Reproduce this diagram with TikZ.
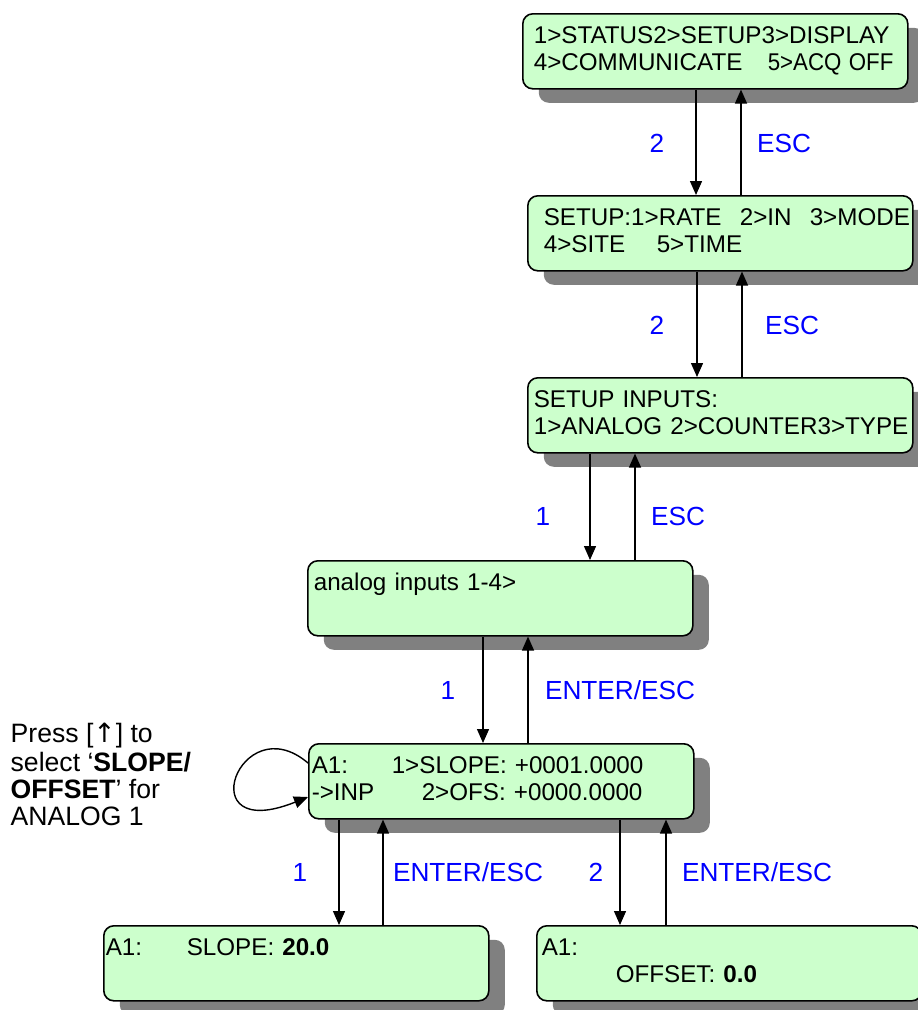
\documentclass[tikz,border=0pt]{standalone}
\usepackage{fontspec}
\setmainfont{Liberation Sans}
\newfontfamily\arrowfont{DejaVu Sans}
\usetikzlibrary{arrows.meta,shadows}
\definecolor{lcdgreen}{RGB}{204,255,204}
\definecolor{shadowgray}{RGB}{128,128,128}
\tikzset{
    panel/.style={draw,line width=1.6pt,rounded corners=10pt,fill=lcdgreen,
        drop shadow={shadow xshift=16pt,shadow yshift=-14pt,fill=shadowgray,opacity=1},
        anchor=north west,minimum height=75pt,text width=381pt,inner xsep=2pt,
        align=left,font=\fontsize{24.2}{27.5}\selectfont},
    key/.style={text=blue,font=\fontsize{26.2}{28}\selectfont},
    arr/.style={line width=1.4pt,-{Triangle[length=14pt,width=12pt]}}
}

\begin{document}
\begin{tikzpicture}[x=1pt,y=-1pt]
    \useasboundingbox (0,0) rectangle (918,1010);
    \node[panel] (main) at (522,13)
        {\strut\hspace*{9pt}1>STATUS2>SETUP3>DISPLAY\\
         \strut\hspace*{9pt}\makebox[234pt][l]{4>COMMUNICATE}\rlap{\scalebox{0.92}[1]{5>ACQ OFF}}};
    \node[panel] (setup) at (527,195)
        {\strut\hspace*{14pt}\makebox[196pt][l]{SETUP:1>RATE}\makebox[70pt][l]{2>IN}\rlap{3>MODE}\\
         \strut\hspace*{14pt}\makebox[113pt][l]{4>SITE}5>TIME};
    \node[panel] (inputs) at (527,377)
        {\strut\hspace*{4pt}SETUP INPUTS:\\
         \strut\hspace*{4pt}\rlap{1>ANALOG 2>COUNTER3>TYPE}};
    \node[panel] (analog) at (307,560)
        {\strut\hspace*{4pt}analog inputs 1-4>\\\strut};
    \node[panel] (chan) at (308,743)
        {\strut\hspace*{1pt}\makebox[80pt][l]{A1:}1>SLOPE: +0001.0000\\
         \strut\hspace*{1pt}\makebox[110pt][l]{->INP}2>OFS: +0000.0000};
    \node[panel] (slope) at (103,925)
        {\strut\makebox[81pt][l]{A1:}SLOPE: \textbf{20.0}\\\strut};
    \node[panel] (offset) at (536,925)
        {\strut\hspace*{3pt}A1:\\
         \strut\hspace*{77pt}OFFSET: \textbf{0.0}};

    \node[align=left,inner sep=0pt,anchor=north west,font=\fontsize{26.6}{27.4}\selectfont] (hint) at (10.5,723)
        {\strut Press [{\arrowfont ↑}] to\\select ‘\textbf{SLOPE/}\\\textbf{OFFSET}’ for\\ANALOG 1};

    \draw[arr] (696,0 |- main.south) -- (696,0 |- setup.north);
    \draw[arr] (741,0 |- setup.north) -- (741,0 |- main.south);
    \draw[arr] (697,0 |- setup.south) -- (697,0 |- inputs.north);
    \draw[arr] (742,0 |- inputs.north) -- (742,0 |- setup.south);
    \draw[arr] (590,0 |- inputs.south) -- (590,0 |- analog.north);
    \draw[arr] (635,0 |- analog.north) -- (635,0 |- inputs.south);
    \draw[arr] (483,0 |- analog.south) -- (483,0 |- chan.north);
    \draw[arr] (528,0 |- chan.north) -- (528,0 |- analog.south);
    \draw[arr] (339,0 |- chan.south) -- (339,0 |- slope.north);
    \draw[arr] (383,0 |- slope.north) -- (383,0 |- chan.south);
    \draw[arr] (620,0 |- chan.south) -- (620,0 |- offset.north);
    \draw[arr] (666,0 |- offset.north) -- (666,0 |- chan.south);
    \draw[arr] (chan.west |- 0,763) .. controls (240,705) and (188,845) .. (chan.west |- 0,797);

    \node[key] (k1) at (657,143) {2};
    \node[key] (e1) at (784,143) {ESC};
    \node[key] (k2) at (657,325) {2};
    \node[key] (e2) at (792,325) {ESC};
    \node[key] (k3) at (543,516) {1};
    \node[key] (e3) at (678,516) {ESC};
    \node[key] (k4) at (448,690) {1};
    \node[key] (e4) at (620,690) {ENTER/ESC};
    \node[key] (k5) at (300,872) {1};
    \node[key] (e5) at (468,872) {ENTER/ESC};
    \node[key] (k6) at (596,872) {2};
    \node[key] (e6) at (757,872) {ENTER/ESC};
\end{tikzpicture}
\end{document}
